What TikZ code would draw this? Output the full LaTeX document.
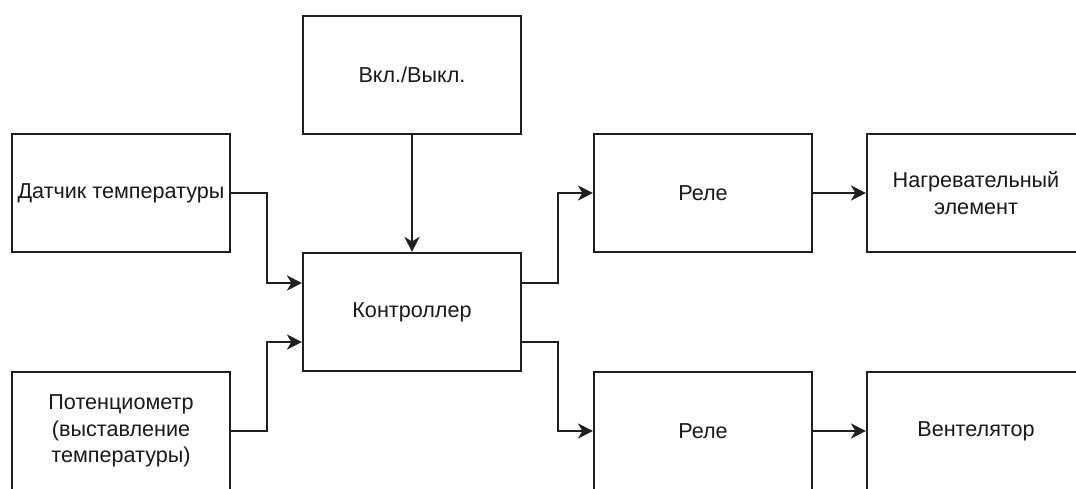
\documentclass[tikz,border=0pt]{standalone}
\usepackage{fontspec}
\setmainfont{Liberation Sans}
\usetikzlibrary{arrows.meta}
\begin{document}
\begin{tikzpicture}[x=1pt,y=-1pt,
  block/.style={draw=black!88, line width=2.1pt, minimum width=218pt,
    minimum height=118pt, align=center, inner sep=0pt, text=black!90,
    font=\fontsize{21.6}{26.5}\selectfont},
  link/.style={draw=black!88, line width=2.1pt,
    -{Stealth[length=15pt,width=15pt,inset=4.5pt]}}]
\useasboundingbox (0,0) rectangle (1076,488);
\clip (0,0) rectangle (1076,488);
\fill[white] (0,0) rectangle (1076,488);

% blocks
\node[block] (onoff) at (412,75)  {Вкл./Выкл.};
\node[block] (sens)  at (121,193) {Датчик температуры};
\node[block] (pot)   at (121,431) {Потенциометр\\ (выставление\\ температуры)};
\node[block] (ctrl)  at (412,312) {Контроллер};
\node[block] (rel1)  at (703,193) {Реле};
\node[block] (rel2)  at (703,431) {Реле};
\node[block] (heat)  at (976,193) {Нагревательный\\ элемент};
\node[block] (fan)   at (976,431) {Вентелятор};

% connections
\draw[link] (onoff.south) -- (ctrl.north);
\draw[link] (sens.east) -- ++(36,0) |- ([yshift=29pt]ctrl.west);
\draw[link] (pot.east) -- ++(36,0) |- ([yshift=-30pt]ctrl.west);
\draw[link] ([yshift=29pt]ctrl.east) -- ++(36,0) |- (rel1.west);
\draw[link] ([yshift=-30pt]ctrl.east) -- ++(36,0) |- (rel2.west);
\draw[link] (rel1.east) -- (heat.west);
\draw[link] (rel2.east) -- (fan.west);
\end{tikzpicture}
\end{document}
